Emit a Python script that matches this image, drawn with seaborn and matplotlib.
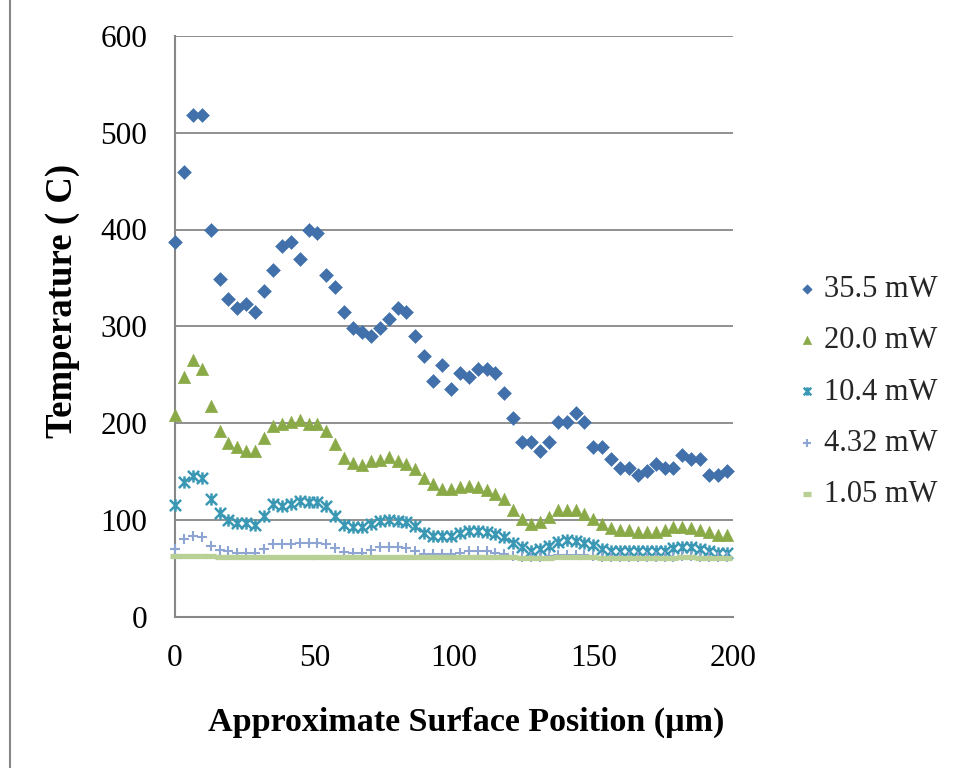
import numpy as np
import pandas as pd
import matplotlib
matplotlib.use("Agg")
import matplotlib.pyplot as plt
from matplotlib.path import Path
from matplotlib.patches import Rectangle
import seaborn as sns

# ---------------- data ----------------
position_um = [0.0, 3.2, 6.4, 9.6, 12.8, 16.0, 19.1, 22.3, 25.5, 28.7,
               31.9, 35.1, 38.3, 41.5, 44.7, 47.9, 51.0, 54.2, 57.4, 60.6,
               63.8, 67.0, 70.2, 73.4, 76.6, 79.8, 82.9, 86.1, 89.3, 92.5,
               95.7, 98.9, 102.1, 105.3, 108.5, 111.7, 114.8, 118.0, 121.2, 124.4,
               127.6, 130.8, 134.0, 137.2, 140.4, 143.6, 146.7, 149.9, 153.1, 156.3,
               159.5, 162.7, 165.9, 169.1, 172.3, 175.5, 178.6, 181.8, 185.0, 188.2,
               191.4, 194.6, 197.8]

t_35_5 = [387, 459, 518, 518, 400, 349, 328, 319, 323, 315,
          336, 358, 383, 387, 370, 400, 396, 353, 341, 315,
          298, 294, 290, 298, 307, 319, 315, 290, 269, 243,
          260, 235, 252, 248, 256, 256, 252, 231, 205, 180,
          180, 171, 180, 201, 201, 210, 201, 175, 175, 163,
          154, 154, 146, 150, 158, 154, 154, 167, 163, 163,
          146, 146, 150]

t_20_0 = [208, 248, 265, 256, 218, 192, 179, 175, 171, 171,
          185, 197, 199, 201, 203, 199, 199, 192, 178, 164,
          159, 157, 161, 162, 165, 161, 158, 152, 143, 137,
          132, 132, 134, 135, 134, 131, 127, 121, 110, 101,
          96, 98, 103, 110, 110, 110, 106, 101, 96, 91,
          89, 89, 87, 87, 87, 89, 92, 92, 91, 89,
          87, 84, 84]

t_10_4 = [115, 139, 145, 143, 121, 107, 100, 97, 97, 95,
          104, 116, 114, 116, 119, 118, 118, 114, 104, 95,
          92, 92, 96, 99, 100, 99, 98, 94, 86, 83,
          83, 83, 86, 88, 88, 87, 85, 82, 76, 72,
          68, 70, 73, 77, 79, 78, 76, 74, 70, 68,
          68, 68, 68, 68, 68, 68, 71, 72, 72, 70,
          68, 66, 66]

t_4_32 = [70, 80, 83, 82, 73, 69, 68, 66, 66, 66,
          70, 75, 75, 75, 76, 76, 76, 75, 71, 67,
          66, 66, 69, 72, 72, 72, 71, 68, 65, 65,
          65, 65, 66, 68, 68, 68, 66, 65, 63, 62,
          61, 62, 63, 64, 64, 64, 64, 63, 62, 62,
          61, 61, 61, 61, 61, 62, 62, 63, 63, 62,
          62, 61, 61]

t_1_05 = [62.5, 63, 63, 63, 62.5, 62, 61.5, 61.5, 61.5, 61.5,
          61.5, 62, 62, 62, 62, 62, 62, 62, 62, 61.5,
          61.5, 61.5, 61.5, 62, 62, 62, 62, 62, 61.5, 61.5,
          61, 61, 61, 61.5, 61.5, 61.5, 61.5, 61, 61, 60.5,
          60.5, 60.5, 60.5, 61, 61, 61, 61, 61, 60.5, 60.5,
          60.5, 60.5, 60.5, 60.5, 60.5, 60.5, 60.5, 61, 61, 60.5,
          60.5, 60.5, 60.5]

series_labels = ["35.5 mW", "20.0 mW", "10.4 mW", "4.32 mW", "1.05 mW"]
x_ticks = [0, 50, 100, 150, 200]
y_ticks = [0, 100, 200, 300, 400, 500, 600]

# ---------------- styling ----------------
sns.set_theme(style="white")
plt.rcParams["font.family"] = ["Liberation Serif", "DejaVu Serif"]

GRID = "#878787"
star = Path([(-0.5, -0.5), (0.5, 0.5), (-0.5, 0.5), (0.5, -0.5), (0, -0.55), (0, 0.55)],
            [Path.MOVETO, Path.LINETO, Path.MOVETO, Path.LINETO, Path.MOVETO, Path.LINETO])

styles = [
    dict(marker="D", s=50, color="#4170AA", edgecolor="#4170AA", linewidth=0.4),
    dict(marker="^", s=80, color="#8AAA48", edgecolor="#8AAA48", linewidth=0.4),
    dict(marker=star, s=78, color="#3A98B4", edgecolor="#3A98B4", linewidth=1.8),
    dict(marker="+", s=60, color="#8EA5D3", edgecolor="#8EA5D3", linewidth=1.5),
    dict(marker="_", s=56, color="#B8CF95", edgecolor="#B8CF95", linewidth=3.8),
]
values = [t_35_5, t_20_0, t_10_4, t_4_32, t_1_05]

fig = plt.figure(figsize=(9.56, 7.68), dpi=100)
ax = fig.add_axes([175 / 956, 1 - 616.5 / 768, 558 / 956, 580.5 / 768])

for lab, vals, st in zip(series_labels, values, styles):
    df = pd.DataFrame({"Position": position_um, "Temperature": vals})
    sns.scatterplot(data=df, x="Position", y="Temperature", ax=ax, label=lab,
                    clip_on=False, zorder=3, **st)

ax.set_xlim(0, 200)
ax.set_ylim(0, 600)
ax.set_xticks(x_ticks)
ax.set_yticks(y_ticks)
ax.yaxis.grid(True, color=GRID, linewidth=1.3)
ax.xaxis.grid(False)
ax.set_axisbelow(True)
for side in ["top", "right"]:
    ax.spines[side].set_visible(False)
for side in ["left", "bottom"]:
    ax.spines[side].set_color(GRID)
    ax.spines[side].set_linewidth(1.5)
ax.tick_params(axis="both", which="major", direction="out", length=6, width=1.3,
               color=GRID, labelsize=22.5, labelcolor="black")
ax.tick_params(axis="y", pad=14)
ax.tick_params(axis="x", pad=14)

ax.set_xlabel("Approximate Surface Position (µm)", fontsize=24.5, fontweight="bold", color="black")
ax.xaxis.label.set_va("baseline")
ax.xaxis.set_label_coords((466 - 175) / 558, (616.5 - 731) / 580.5)
ax.set_ylabel("Temperature ( C)", fontsize=26.5, fontweight="bold", color="black")
ax.yaxis.label.set_va("center")
ax.yaxis.set_label_coords((63 - 175) / 558, (616.5 - 301) / 580.5)

leg = ax.legend(loc="center left", bbox_to_anchor=(798 / 956, 1 - 392 / 768),
                bbox_transform=fig.transFigure, frameon=False, fontsize=22,
                handlelength=0.6, handletextpad=0.25, borderpad=0, borderaxespad=0,
                labelspacing=0.73, markerscale=0.68)

# outer chart-area border
fig.add_artist(Rectangle((10 / 956, -0.2), 1.5, 1.2 + (1 - 5 / 768),
                         transform=fig.transFigure, fill=False,
                         edgecolor=GRID, linewidth=1.5))

fig.savefig("out.png", dpi=100)
